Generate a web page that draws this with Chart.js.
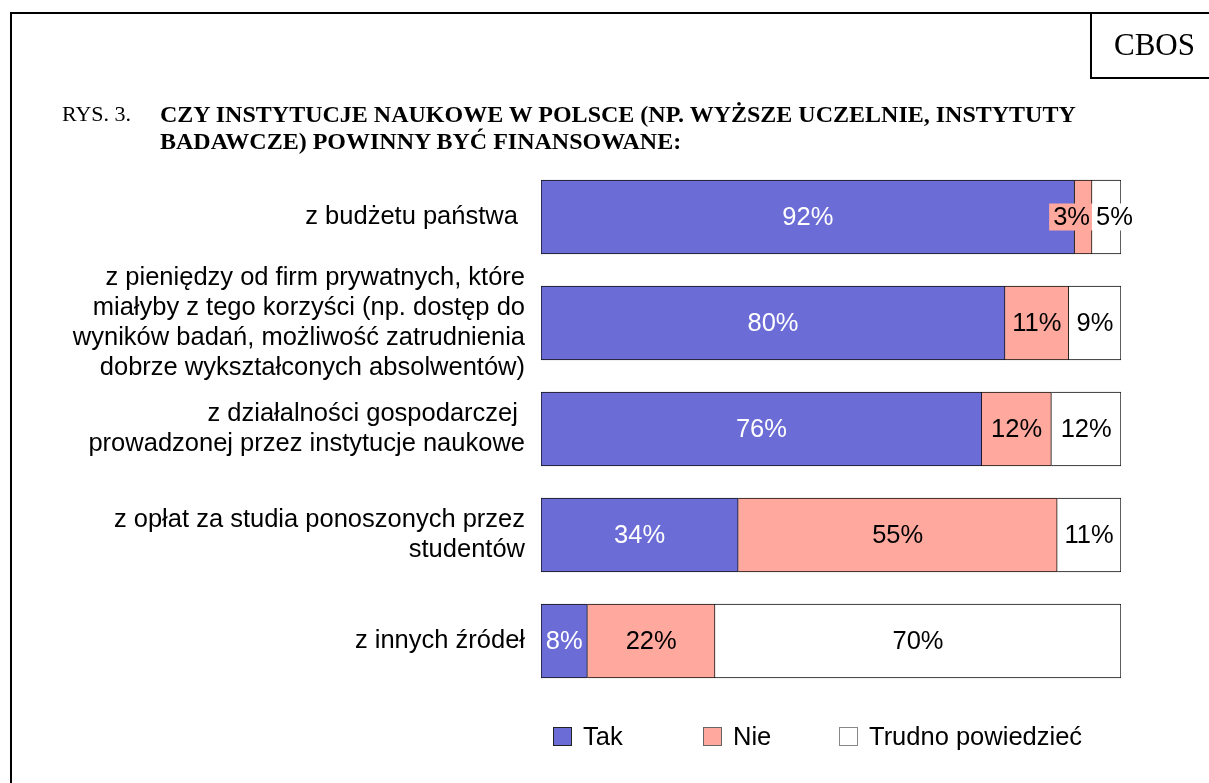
<!DOCTYPE html>
<html>
<head>
<meta charset="utf-8">
<script src="https://cdn.jsdelivr.net/npm/chart.js@4.4.1/dist/chart.umd.min.js"></script>
<style>
  body { margin: 0; background: #fff; width: 1209px; height: 783px; overflow: hidden; position: relative; }
  #frame {
    position: absolute; left: 10px; top: 12px; width: 1199px; height: 771px;
    border-left: 2px solid #000; border-top: 2px solid #000; box-sizing: border-box;
  }
  #cbos {
    position: absolute; left: 1090px; top: 12px; width: 119px; height: 67px;
    border-left: 2px solid #000; border-bottom: 2px solid #000; box-sizing: border-box;
  }
  #cbos span {
    position: absolute; left: 22px; top: 17px;
    font: 31px "Liberation Serif", "Times New Roman", serif; line-height: 31px;
  }
  .title { position: absolute; top: 101px; line-height: 26.7px; font-family: "Liberation Serif", "Times New Roman", serif; }
  #rys { left: 62px; font-size: 22px; }
  #head { left: 160px; font-size: 24px; font-weight: bold; white-space: nowrap; }
  #legendContainer { position: absolute; left: 553px; top: 727px; }
  #legendContainer ul {
    display: grid; grid-template-columns: 150px 136px auto; margin: 0; padding: 0; list-style: none;
  }
  #legendContainer li { display: flex; align-items: center; height: 19px; font: 25.5px "Liberation Sans", Arial, sans-serif; }
  #legendContainer .box { display: inline-block; width: 19px; height: 19px; box-sizing: border-box; margin-right: 11px; }
</style>
</head>
<body>
<div id="frame"></div>
<div id="cbos"><span>CBOS</span></div>
<div id="rys" class="title">RYS. 3.</div>
<div id="head" class="title">CZY INSTYTUCJE NAUKOWE W POLSCE (NP. WYŻSZE UCZELNIE, INSTYTUTY<br>BADAWCZE) POWINNY BYĆ FINANSOWANE:</div>
<canvas id="chartDestination" width="1209" height="783"></canvas>
<div id="legendContainer"></div>
<script>
const categories = [
  ["z budżetu państwa "],
  ["z pieniędzy od firm prywatnych, które", "miałyby z tego korzyści (np. dostęp do", "wyników badań, możliwość zatrudnienia", "dobrze wykształconych absolwentów)"],
  ["z działalności gospodarczej ", "prowadzonej przez instytucje naukowe"],
  ["z opłat za studia ponoszonych przez", "studentów"],
  ["z innych źródeł"],
];
const tak = [92, 80, 76, 34, 8];
const nie = [3, 11, 12, 55, 22];
const trudno = [5, 9, 12, 11, 70];
const seriesNames = ["Tak", "Nie", "Trudno powiedzieć"];

const FONT = "'Liberation Sans', Arial, sans-serif";

const htmlLegendPlugin = {
  id: "htmlLegend",
  afterUpdate(chart) {
    const container = document.getElementById("legendContainer");
    container.innerHTML = "";
    const ul = document.createElement("ul");
    chart.data.datasets.forEach((ds) => {
      const li = document.createElement("li");
      const box = document.createElement("span");
      box.className = "box";
      box.style.background = ds.backgroundColor;
      box.style.border = "1px solid " + ds.legendBorder;
      li.appendChild(box);
      li.appendChild(document.createTextNode(ds.label));
      ul.appendChild(li);
    });
    container.appendChild(ul);
  },
};

// percentage labels inside the segments
const valueLabels = {
  id: "valueLabels",
  afterDatasetsDraw(chart) {
    const ctx = chart.ctx;
    ctx.save();
    ctx.font = "25.5px " + FONT;
    ctx.textBaseline = "middle";
    ctx.textAlign = "center";
    const count = chart.data.datasets.length;
    chart.data.datasets.forEach((ds, di) => {
      const meta = chart.getDatasetMeta(di);
      meta.data.forEach((bar, i) => {
        const text = ds.data[i] + "%";
        const w = ctx.measureText(text).width;
        const left = Math.min(bar.x, bar.base);
        const right = Math.max(bar.x, bar.base);
        let cx = (left + right) / 2;
        if (w + 4 > right - left) {
          // narrow segment: push the label aside, with a backing box
          const boxW = w + 8;
          cx = di < count - 1 ? right + 2 - boxW / 2 : left + boxW / 2;
          ctx.fillStyle = ds.backgroundColor;
          ctx.fillRect(cx - boxW / 2, bar.y - 13.5, boxW, 27);
        }
        ctx.fillStyle = ds.labelColor;
        ctx.fillText(text, cx, bar.y + 1);
      });
    });
    ctx.restore();
  },
};

const config = {
  type: "bar",
  data: {
    labels: categories,
    datasets: [
      { label: seriesNames[0], data: tak, backgroundColor: "#6b6cd6", borderColor: "#111", legendBorder: "#222", borderSkipped: false, labelColor: "#fff" },
      { label: seriesNames[1], data: nie, backgroundColor: "#ffa99e", borderColor: "#111", legendBorder: "#666", labelColor: "#000" },
      { label: seriesNames[2], data: trudno, backgroundColor: "#ffffff", borderColor: "#111", legendBorder: "#888", labelColor: "#000" },
    ],
  },
  options: {
    responsive: false,
    animation: false,
    indexAxis: "y",
    layout: { padding: { top: 164, bottom: 89, left: 0, right: 88 } },
    datasets: { bar: { borderWidth: 1, barThickness: 74 } },
    scales: {
      x: { stacked: true, min: 0, max: 100, display: false },
      y: {
        stacked: true,
        grid: { display: false, drawTicks: false },
        border: { display: false },
        ticks: { autoSkip: false, color: "#000", padding: 16, font: { family: FONT, size: 25.5, lineHeight: 1.176 } },
        afterFit(scale) { scale.width = 541; },
      },
    },
    plugins: {
      legend: { display: false },
      tooltip: { enabled: false },
    },
  },
  plugins: [htmlLegendPlugin, valueLabels],
};

const chart = new Chart(document.getElementById("chartDestination"), config);
</script>
</body>
</html>
